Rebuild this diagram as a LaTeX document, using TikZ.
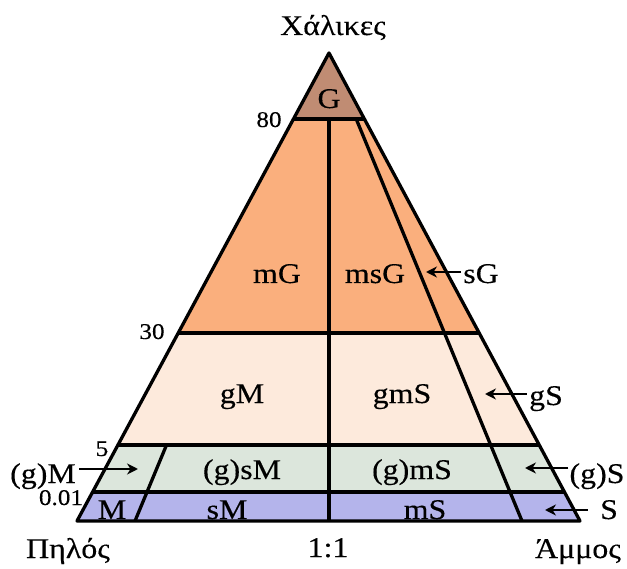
\documentclass[tikz,border=0pt]{standalone}
\usepackage{fontspec}
\setmainfont[FakeStretch=1.12,FakeBold=0.3]{Liberation Serif}
\usetikzlibrary{calc,arrows.meta}
\definecolor{cG}{HTML}{C08C73}
\definecolor{cOr}{HTML}{FAAF7D}
\definecolor{cPe}{HTML}{FDEADC}
\definecolor{cGr}{HTML}{DCE6DC}
\definecolor{cBl}{HTML}{B4B4EB}
\begin{document}
\begin{tikzpicture}[x=1pt,y=-1pt,
  lbl/.style={font=\fontsize{28.5}{28.5}\selectfont, inner sep=0pt, anchor=base},
  num/.style={font=\fontsize{22.5}{22.5}\selectfont, inner sep=0pt, anchor=base},
  bnd/.style={line width=3.3pt, line join=round},
  ptr/.style={line width=2.3pt, -{Stealth[length=11pt,width=11pt]}}]
\useasboundingbox (0,0) rectangle (627,569);
% corners
\coordinate (A) at (329,53);
\coordinate (L) at (77,521);
\coordinate (R) at (580,521);
% band edges on left and right sides
\coordinate (l80) at ($(A)!0.1410!(L)$);
\coordinate (r80) at ($(A)!0.1410!(R)$);
\coordinate (l30) at ($(A)!0.5983!(L)$);
\coordinate (r30) at ($(A)!0.5983!(R)$);
\coordinate (l5)  at ($(A)!0.8376!(L)$);
\coordinate (r5)  at ($(A)!0.8376!(R)$);
\coordinate (l01) at ($(A)!0.9380!(L)$);
\coordinate (r01) at ($(A)!0.9380!(R)$);
% inner dividing lines
\coordinate (P) at (522,521);
\coordinate (Q) at (135,521);
\coordinate (M) at (329,521);
% fills
\fill[cG]  (A) -- (l80) -- (r80) -- cycle;
\fill[cOr] (l80) -- (r80) -- (r30) -- (l30) -- cycle;
\fill[cPe] (l30) -- (r30) -- (r5) -- (l5) -- cycle;
\fill[cGr] (l5) -- (r5) -- (r01) -- (l01) -- cycle;
\fill[cBl] (l01) -- (r01) -- (R) -- (L) -- cycle;
% lines
\draw[bnd] (l80) -- (r80);
\draw[bnd] (l30) -- (r30);
\draw[bnd] (l5) -- (r5);
\draw[bnd] (l01) -- (r01);
\draw[bnd] (M |- l80) -- (M);
\draw[bnd] ($(A)!0.1410!(P)$) -- (P);
\draw[bnd] ($(A)!0.8376!(Q)$) -- (Q);
\draw[bnd] (A) -- (L) -- (R) -- cycle;
% region labels
\node[lbl] (nG) at (329,108) {G};
\node[lbl] (nmG) at (277,283) {mG};
\node[lbl] (nmsG) at (375,283) {msG};
\node[lbl] (ngM) at (242,403) {gM};
\node[lbl] (ngmS) at (402,403) {gmS};
\node[lbl] (ngsM) at (242,479) {(g)sM};
\node[lbl] (ngmS2) at (412,479) {(g)mS};
\node[lbl] (nM) at (112,519) {M};
\node[lbl] (nsM) at (227,519) {sM};
\node[lbl] (nmS) at (425,519) {mS};
% outside labels
\node[lbl] (nsG) at (481,283) {sG};
\node[lbl] (ngS) at (546,405) {gS};
\node[lbl] (ngMo) at (43,483) {(g)M};
\node[lbl] (ngSo) at (597,483) {(g)S};
\node[lbl] (nSo) at (609,519) {S};
% corner labels
\node[lbl] (top) at (333,35) {Χάλικες};
\node[lbl] (clay) at (68,558) {Πηλός};
\node[lbl] (half) at (328,557) {1:1};
\node[lbl] (sand) at (578,558) {Άμμος};
% scale numbers
\node[num] (n80) at (269,127) {80};
\node[num] (n30) at (152,339) {30};
\node[num] (n5) at (102,456) {5};
\node[num] (n01) at (61,505) {0.01};
% pointers
\coordinate (tsG) at (426,272);
\coordinate (tgS) at (485,394);
\coordinate (tgMo) at (138,469);
\coordinate (tgSo) at (525,468);
\coordinate (tSo) at (545,510);
\draw[ptr] ([xshift=-2pt]nsG.west |- tsG) -- (tsG);
\draw[ptr] ([xshift=-2pt]ngS.west |- tgS) -- (tgS);
\draw[ptr] ([xshift=3pt]ngMo.east |- tgMo) -- (tgMo);
\draw[ptr] ([xshift=-1pt]ngSo.west |- tgSo) -- (tgSo);
\draw[ptr] ([xshift=-12pt]nSo.west |- tSo) -- (tSo);
\end{tikzpicture}
\end{document}
